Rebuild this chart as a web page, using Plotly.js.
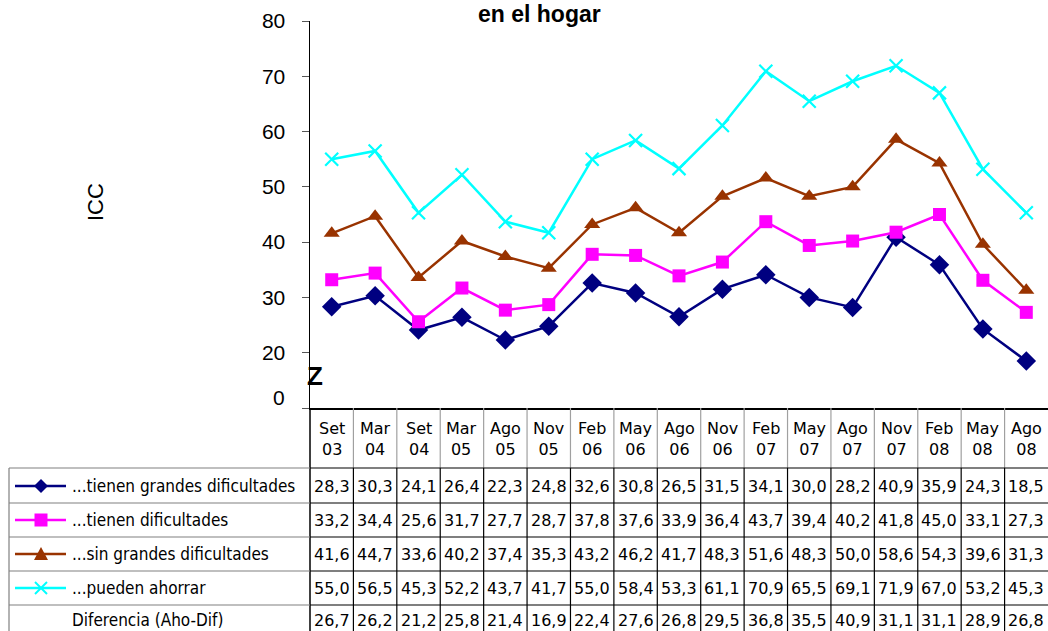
<!DOCTYPE html>
<html><head><meta charset="utf-8">
<script src="https://cdn.plot.ly/plotly-3.0.1.min.js"></script>
<style>html,body{margin:0;padding:0;background:#fff}</style></head>
<body><div id="chart" style="width:1048px;height:631px"></div>
<script>
const categories = ["Set 03","Mar 04","Set 04","Mar 05","Ago 05","Nov 05","Feb 06","May 06","Ago 06","Nov 06","Feb 07","May 07","Ago 07","Nov 07","Feb 08","May 08","Ago 08"];
const grandesDificultades = [28.3,30.3,24.1,26.4,22.3,24.8,32.6,30.8,26.5,31.5,34.1,30.0,28.2,40.9,35.9,24.3,18.5];
const dificultades = [33.2,34.4,25.6,31.7,27.7,28.7,37.8,37.6,33.9,36.4,43.7,39.4,40.2,41.8,45.0,33.1,27.3];
const sinGrandes = [41.6,44.7,33.6,40.2,37.4,35.3,43.2,46.2,41.7,48.3,51.6,48.3,50.0,58.6,54.3,39.6,31.3];
const puedenAhorrar = [55.0,56.5,45.3,52.2,43.7,41.7,55.0,58.4,53.3,61.1,70.9,65.5,69.1,71.9,67.0,53.2,45.3];
const diferencia = [26.7,26.2,21.2,25.8,21.4,16.9,22.4,27.6,26.8,29.5,36.8,35.5,40.9,31.1,31.1,28.9,26.8];
const seriesNames = ["...tienen grandes dificultades","...tienen dificultades","...sin grandes dificultades","...pueden ahorrar","Diferencia (Aho-Dif)"];
const yTickVals = [10,20,30,40,50,60,70,80];
const yTickText = ["","20","30","40","50","60","70","80"];
const colors = ["#000080","#FF00FF","#993300","#00FFFF"];

const W=1048,H=631;
const X=px=>px/W, Y=py=>1-py/H;
const plotL=310, plotR=1048, plotT=21, plotB=408;
const colW=(plotR-plotL)/categories.length;
const rowLines=[468,503,537,571,605];
const rowCenters=[486,520,554,588,620];
const tableFont={family:"DejaVu Sans",size:16,color:"#000"};
const labelFont={family:"DejaVu Sans Condensed, DejaVu Sans",size:17,color:"#000"};

const traces=[
 {x:categories,y:grandesDificultades,name:seriesNames[0],mode:"lines+markers",line:{color:colors[0],width:2.5},marker:{symbol:"diamond",size:15,color:colors[0]}},
 {x:categories,y:dificultades,name:seriesNames[1],mode:"lines+markers",line:{color:colors[1],width:2.5},marker:{symbol:"square",size:13,color:colors[1]}},
 {x:categories,y:sinGrandes,name:seriesNames[2],mode:"lines+markers",line:{color:colors[2],width:2.5},marker:{symbol:"triangle-up",size:14,color:colors[2]}},
 {x:categories,y:puedenAhorrar,name:seriesNames[3],mode:"lines+markers",line:{color:colors[3],width:2.5},marker:{symbol:"x-thin",size:13,color:colors[3],line:{color:colors[3],width:2.2}}}
];

const shapes=[];
const ann=[];
const fmt=v=>v.toFixed(1).replace(".",",");
// table grid
for(let i=1;i<categories.length;i++){
  const px=plotL+colW*i;
  shapes.push({type:"line",xref:"paper",yref:"paper",x0:X(px),x1:X(px),y0:Y(plotB),y1:Y(rowLines[0]),line:{color:"#a0a0a0",width:1.2}});
  shapes.push({type:"line",xref:"paper",yref:"paper",x0:X(px),x1:X(px),y0:Y(rowLines[0]),y1:Y(H+5),line:{color:"#000",width:1.2}});
}
shapes.push({type:"line",xref:"paper",yref:"paper",x0:X(plotL),x1:X(plotL),y0:Y(plotB),y1:Y(H+5),line:{color:"#000",width:1.5}});
shapes.push({type:"line",xref:"paper",yref:"paper",x0:X(9),x1:X(9),y0:Y(rowLines[0]),y1:Y(H+5),line:{color:"#808080",width:1.2}});
rowLines.forEach(py=>{
  shapes.push({type:"line",xref:"paper",yref:"paper",x0:X(9),x1:X(plotL),y0:Y(py),y1:Y(py),line:{color:"#808080",width:1.2}});
  shapes.push({type:"line",xref:"paper",yref:"paper",x0:X(plotL),x1:X(W),y0:Y(py),y1:Y(py),line:{color:"#000",width:1.2}});
});
// legend keys
const kx0=15,kx1=66,kc=41;
for(let r=0;r<4;r++){
  const cy=rowCenters[r];
  shapes.push({type:"line",xref:"paper",yref:"paper",x0:X(kx0),x1:X(kx1),y0:Y(cy),y1:Y(cy),line:{color:colors[r],width:2.5}});
}
const P=(pts)=>"M"+pts.map(p=>X(p[0])+","+Y(p[1])).join(" L")+" Z";
shapes.push({type:"path",xref:"paper",yref:"paper",path:P([[kc,rowCenters[0]-7],[kc+7,rowCenters[0]],[kc,rowCenters[0]+7],[kc-7,rowCenters[0]]]),fillcolor:colors[0],line:{width:0}});
shapes.push({type:"rect",xref:"paper",yref:"paper",x0:X(kc-6.5),x1:X(kc+6.5),y0:Y(rowCenters[1]-6.5),y1:Y(rowCenters[1]+6.5),fillcolor:colors[1],line:{width:0}});
shapes.push({type:"path",xref:"paper",yref:"paper",path:P([[kc,rowCenters[2]-7],[kc+7,rowCenters[2]+6],[kc-7,rowCenters[2]+6]]),fillcolor:colors[2],line:{width:0}});
shapes.push({type:"line",xref:"paper",yref:"paper",x0:X(kc-6),x1:X(kc+6),y0:Y(rowCenters[3]-6),y1:Y(rowCenters[3]+6),line:{color:colors[3],width:2}});
shapes.push({type:"line",xref:"paper",yref:"paper",x0:X(kc-6),x1:X(kc+6),y0:Y(rowCenters[3]+6),y1:Y(rowCenters[3]-6),line:{color:colors[3],width:2}});

// header
categories.forEach((c,i)=>{
  ann.push({xref:"x",yref:"paper",x:i,y:Y(438.5),text:c.replace(" ","<br>"),showarrow:false,font:tableFont,xanchor:"center",yanchor:"middle"});
});
const tableRows=[grandesDificultades,dificultades,sinGrandes,puedenAhorrar,diferencia];
tableRows.forEach((row,r)=>{
  ann.push({xref:"paper",yref:"paper",x:X(70),y:Y(rowCenters[r]),text:seriesNames[r],showarrow:false,font:labelFont,xanchor:"left",yanchor:"middle"});
  row.forEach((v,i)=>{
    ann.push({xref:"x",yref:"paper",x:i,y:Y(rowCenters[r]),text:fmt(v),showarrow:false,font:tableFont,xanchor:"center",yanchor:"middle"});
  });
});
// title, axis label, break
ann.push({xref:"paper",yref:"paper",x:X(539),y:1,text:"<b>en el hogar</b>",showarrow:false,font:{family:"Liberation Sans, Arial",size:23,color:"#000"},xanchor:"center",yanchor:"top",borderpad:0});
ann.push({xref:"paper",yref:"paper",x:X(95),y:Y(202),text:"ICC",textangle:-90,showarrow:false,font:{family:"Liberation Sans, Arial",size:22,color:"#000"},xanchor:"center",yanchor:"middle"});
ann.push({xref:"paper",yref:"paper",x:X(287),y:Y(398),text:"0",showarrow:false,font:{family:"Liberation Sans, Arial",size:21,color:"#000"},xanchor:"right",yanchor:"middle"});
ann.push({xref:"paper",yref:"paper",x:X(315),y:Y(376),text:"<b>Z</b>",showarrow:false,font:{family:"Liberation Sans, Arial",size:26,color:"#000"},xanchor:"center",yanchor:"middle"});

const layout={
  width:W,height:H,margin:{l:0,r:0,t:0,b:0},paper_bgcolor:"#fff",plot_bgcolor:"#fff",showlegend:false,
  xaxis:{type:"category",domain:[X(plotL),1],range:[-0.5,categories.length-0.5],showticklabels:false,ticks:"",showgrid:false,zeroline:false,showline:true,linecolor:"#000",linewidth:1.5,anchor:"y",fixedrange:true},
  yaxis:{domain:[Y(plotB),Y(plotT)],range:[10,80],tickvals:yTickVals,ticktext:yTickText,ticks:"outside",ticklen:7,tickcolor:"#555",tickwidth:1,showgrid:false,zeroline:false,showline:true,linecolor:"#000",linewidth:1.5,tickfont:{family:"Liberation Sans, Arial",size:21,color:"#000"},ticklabelstandoff:12,anchor:"x",fixedrange:true},
  shapes:shapes,annotations:ann
};
Plotly.newPlot("chart",traces,layout,{displayModeBar:false,staticPlot:true});
</script></body></html>
